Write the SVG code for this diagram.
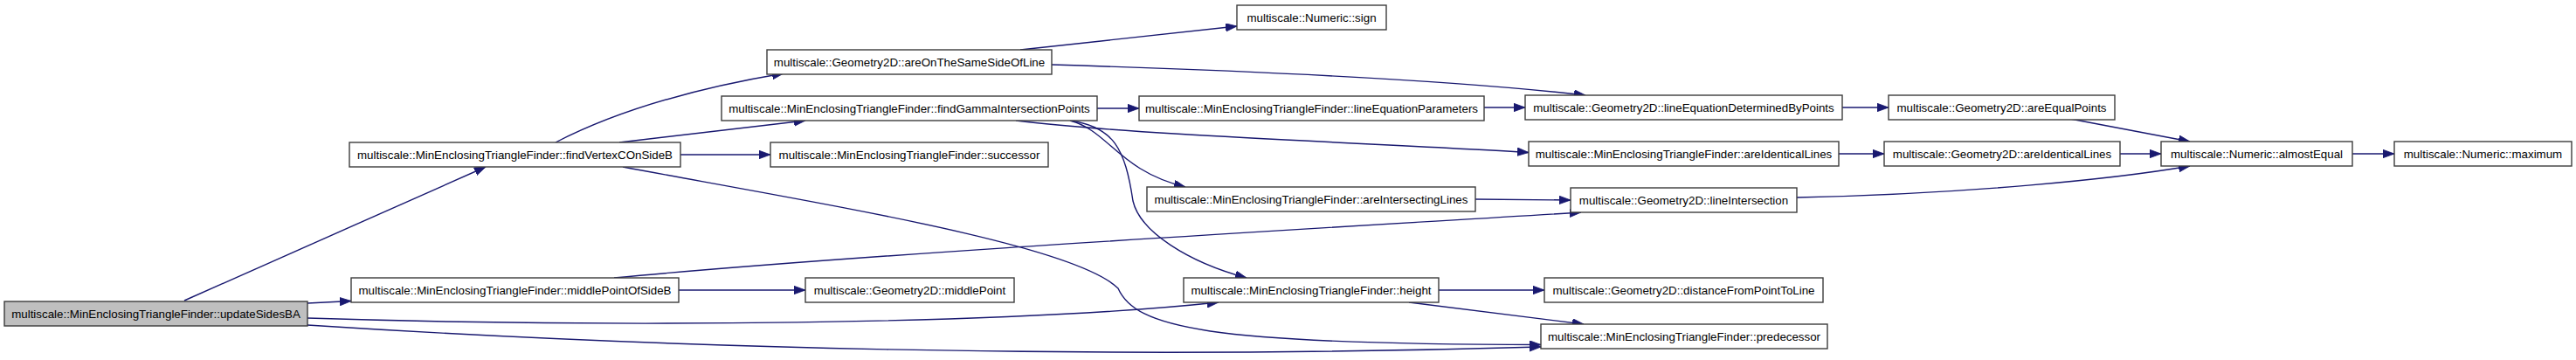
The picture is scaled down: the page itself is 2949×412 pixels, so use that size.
<svg xmlns="http://www.w3.org/2000/svg" width="2949" height="412" viewBox="0 0 2949 412">
<style>
.n rect{fill:#ffffff;stroke:#3c3c3c;stroke-width:1.4}
.n.root rect{fill:#bfbfbf}
.n text{font-family:"Liberation Sans",Arial,sans-serif;font-size:13.33px;fill:#000;text-anchor:middle}
.e path{fill:none;stroke:#191970;stroke-width:1.4;marker-end:url(#arr)}
</style>
<defs>
<marker id="arr" markerUnits="userSpaceOnUse" markerWidth="14" markerHeight="10" refX="13" refY="4.7" orient="auto" viewBox="0 0 14 10">
<path d="M0,0 L13,4.7 L0,9.4 Z" fill="#191970" stroke="#191970" stroke-width="0.8"/>
</marker>
</defs>
<rect width="2949" height="412" fill="#ffffff"/>
<g id="edges" class="e">
<path d="M211,344 L556,191"/>
<path d="M352,347 L402,344.5"/>
<path d="M352,364 C700,375 1150,372 1395,346"/>
<path d="M352,372 C750,398 1250,412 1764,397"/>
<path d="M636,163 C700,130 790,102 897,84"/>
<path d="M709,163 L922,138"/>
<path d="M779,177 L882,177"/>
<path d="M713,191 C950,235 1230,280 1280,330 C1300,375 1380,394 1764,394.5"/>
<path d="M1256,124 L1304,124"/>
<path d="M1204,74 C1400,80 1650,90 1815,109"/>
<path d="M1168,57 L1416,30"/>
<path d="M1699,123 L1746,123"/>
<path d="M1163,138 C1300,155 1600,165 1750,174.5"/>
<path d="M1225,138 C1270,150 1280,195 1357,214"/>
<path d="M1225,138 C1275,145 1288,170 1297,230 C1305,265 1360,300 1427,318"/>
<path d="M2109,123 L2162,123"/>
<path d="M2105,176 L2157,176"/>
<path d="M2370,136 L2507,162"/>
<path d="M2427,176 L2474,176"/>
<path d="M2057,226 C2250,222 2420,205 2507,190"/>
<path d="M2693,176 L2741,176"/>
<path d="M1689,228 L1798,229"/>
<path d="M703,318 C1000,290 1500,262 1810,243"/>
<path d="M1647,332 L1768,332"/>
<path d="M1613,346 L1813,371"/>
<path d="M777,332 L922,332"/>
</g>
<g id="updateSidesBA" class="n root"><rect x="5" y="345" width="347" height="28"/><text x="178.5" y="363.5">multiscale::MinEnclosingTriangleFinder::updateSidesBA</text></g>
<g id="findVertexCOnSideB" class="n"><rect x="400" y="163" width="379" height="28"/><text x="589.5" y="181.5">multiscale::MinEnclosingTriangleFinder::findVertexCOnSideB</text></g>
<g id="middlePointOfSideB" class="n"><rect x="402" y="318" width="375" height="28"/><text x="589.5" y="336.5">multiscale::MinEnclosingTriangleFinder::middlePointOfSideB</text></g>
<g id="areOnTheSameSideOfLine" class="n"><rect x="878" y="57" width="326" height="28"/><text x="1041" y="75.5">multiscale::Geometry2D::areOnTheSameSideOfLine</text></g>
<g id="findGammaIntersectionPoints" class="n"><rect x="826" y="110" width="430" height="28"/><text x="1041" y="128.5">multiscale::MinEnclosingTriangleFinder::findGammaIntersectionPoints</text></g>
<g id="successor" class="n"><rect x="882" y="163" width="318" height="28"/><text x="1041" y="181.5">multiscale::MinEnclosingTriangleFinder::successor</text></g>
<g id="middlePoint" class="n"><rect x="922" y="318" width="239" height="28"/><text x="1041.5" y="336.5">multiscale::Geometry2D::middlePoint</text></g>
<g id="sign" class="n"><rect x="1416" y="6" width="171" height="28"/><text x="1501.5" y="24.5">multiscale::Numeric::sign</text></g>
<g id="lineEquationParameters" class="n"><rect x="1304" y="110" width="395" height="28"/><text x="1501.5" y="128.5">multiscale::MinEnclosingTriangleFinder::lineEquationParameters</text></g>
<g id="areIntersectingLines" class="n"><rect x="1313" y="214" width="376" height="28"/><text x="1501" y="232.5">multiscale::MinEnclosingTriangleFinder::areIntersectingLines</text></g>
<g id="height" class="n"><rect x="1355" y="318" width="292" height="28"/><text x="1501" y="336.5">multiscale::MinEnclosingTriangleFinder::height</text></g>
<g id="lineEquationDeterminedByPoints" class="n"><rect x="1746" y="109" width="363" height="28"/><text x="1927.5" y="127.5">multiscale::Geometry2D::lineEquationDeterminedByPoints</text></g>
<g id="areIdenticalLinesMET" class="n"><rect x="1750" y="162" width="355" height="28"/><text x="1927.5" y="180.5">multiscale::MinEnclosingTriangleFinder::areIdenticalLines</text></g>
<g id="lineIntersection" class="n"><rect x="1798" y="215" width="259" height="28"/><text x="1927.5" y="233.5">multiscale::Geometry2D::lineIntersection</text></g>
<g id="distanceFromPointToLine" class="n"><rect x="1768" y="318" width="319" height="28"/><text x="1927.5" y="336.5">multiscale::Geometry2D::distanceFromPointToLine</text></g>
<g id="predecessor" class="n"><rect x="1764" y="371" width="328" height="28"/><text x="1928" y="389.5">multiscale::MinEnclosingTriangleFinder::predecessor</text></g>
<g id="areEqualPoints" class="n"><rect x="2162" y="109" width="259" height="28"/><text x="2291.5" y="127.5">multiscale::Geometry2D::areEqualPoints</text></g>
<g id="areIdenticalLinesG2D" class="n"><rect x="2157" y="162" width="270" height="28"/><text x="2292" y="180.5">multiscale::Geometry2D::areIdenticalLines</text></g>
<g id="almostEqual" class="n"><rect x="2474" y="162" width="219" height="28"/><text x="2583.5" y="180.5">multiscale::Numeric::almostEqual</text></g>
<g id="maximum" class="n"><rect x="2741" y="162" width="203" height="28"/><text x="2842.5" y="180.5">multiscale::Numeric::maximum</text></g>
</svg>
